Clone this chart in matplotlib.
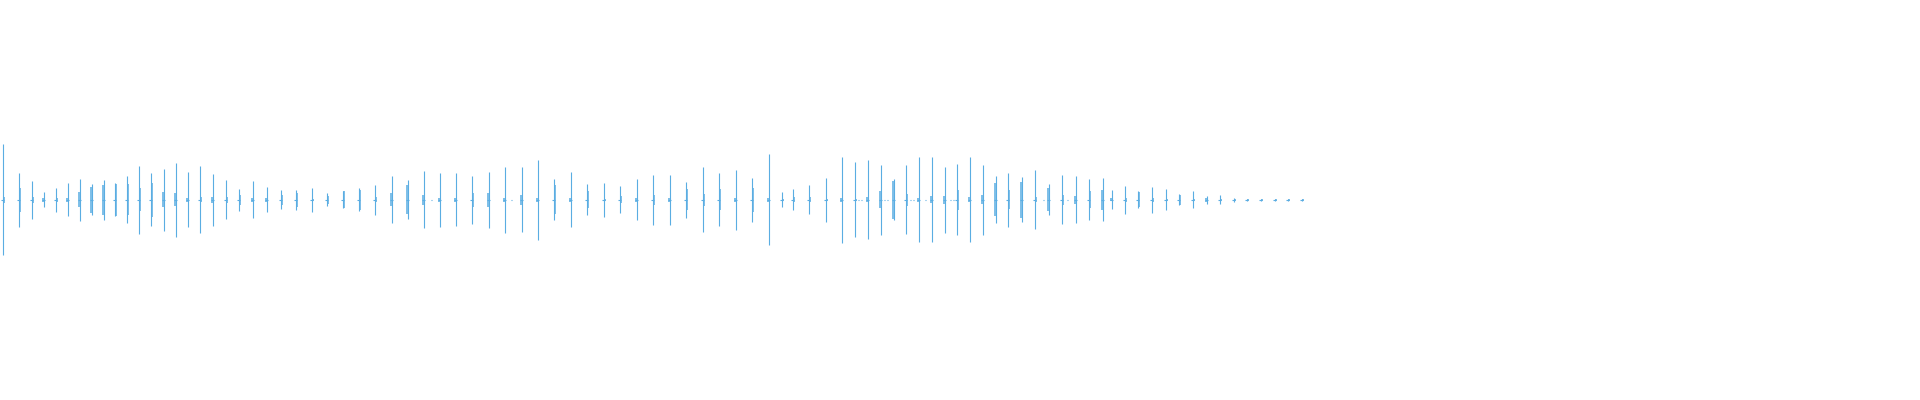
import numpy as np
import matplotlib as mpl
mpl.use("Agg")
import matplotlib.pyplot as plt

# waveform envelope
# time in frames, amplitude in % of full scale
t_peak = [2, 18, 31, 43, 55, 67, 79, 91, 103, 114, 126, 138, 150, 163, 175, 187,
          199, 212, 225, 238, 252, 266, 280, 295, 311, 326, 342, 358, 374, 391,
          407, 423, 439, 455, 471, 488, 504, 521, 537, 553, 570, 586, 603, 619,
          636, 652, 669, 685, 702, 718, 735, 751, 768, 781, 792, 808, 825, 841,
          854, 867, 880, 893, 905, 918, 931, 944, 956, 969, 982, 995, 1007, 1021,
          1034, 1048, 1061, 1075, 1088, 1102, 1111, 1124, 1137, 1151, 1165, 1178,
          1192, 1206, 1219, 1233, 1246, 1260, 1274, 1287, 1301]
amp_max = [27.8, 13.2, 9.2, 3.8, 5.8, 8.2, 10.2, 7.8, 9.8, 8.2, 11.8, 16.8, 13.2,
           15.2, 18.2, 13.8, 16.8, 12.8, 9.8, 5.2, 9.2, 6.2, 4.8, 4.8, 5.8, 3.2,
           4.2, 5.8, 7.2, 11.8, 9.8, 14.2, 13.2, 13.2, 11.8, 13.8, 16.2, 16.2,
           19.8, 10.2, 13.8, 7.8, 8.2, 6.8, 10.2, 12.2, 12.2, 8.8, 16.2, 13.2,
           14.8, 10.8, 22.8, 3.8, 5.2, 7.2, 10.8, 21.2, 18.8, 19.8, 17.2, 10.2,
           17.2, 21.2, 21.2, 16.2, 17.8, 21.2, 17.2, 11.8, 13.2, 11.2, 14.8, 7.8,
           12.2, 11.8, 10.2, 10.8, 4.8, 6.8, 4.2, 6.2, 5.2, 2.8, 4.2, 1.8, 2.2,
           0.8, 0.2, 0.2, 0.2, 0.2, 0.2]
amp_min = [-27.8, -13.6, -9.8, -3.6, -6.1, -8.2, -10.6, -7.8, -10.1, -8.2, -11.6,
           -17.1, -13.1, -15.6, -18.6, -13.6, -16.6, -13.1, -9.6, -5.6, -9.1,
           -6.1, -4.6, -5.1, -6.1, -3.1, -4.1, -5.6, -7.6, -11.6, -9.6, -14.1,
           -13.6, -13.1, -12.1, -14.1, -16.6, -16.1, -20.1, -10.1, -13.6, -7.6,
           -8.6, -6.6, -10.1, -12.6, -12.6, -9.1, -16.1, -13.1, -15.1, -11.1,
           -22.6, -3.6, -5.1, -7.1, -11.1, -21.6, -18.6, -19.6, -17.6, -10.1,
           -17.1, -21.1, -21.1, -16.6, -17.6, -21.1, -17.6, -11.6, -13.6, -11.1,
           -14.6, -7.6, -12.1, -11.6, -10.1, -10.6, -4.6, -7.1, -4.1, -6.6, -5.1,
           -2.6, -4.1, -2.1, -2.1, -1.1, -0.8, -0.5, -0.5, -0.5, -0.5]

# second (neighbouring) frame of each burst
t_side = [3, 19, 32, 42, 56, 66, 78, 90, 102, 115, 127, 139, 151, 162, 174, 186,
          200, 211, 226, 239, 251, 265, 281, 296, 312, 327, 343, 359, 375, 390,
          406, 422, 438, 454, 472, 487, 503, 520, 536, 554, 569, 587, 604, 620,
          635, 653, 668, 686, 703, 719, 734, 752, 767, 782, 793, 809, 826, 840,
          855, 866, 879, 892, 906, 917, 930, 943, 957, 968, 981, 994, 1008, 1020,
          1035, 1047, 1062, 1074, 1089, 1101, 1110, 1125, 1138, 1152, 1166, 1179,
          1193, 1205, 1220, 1234, 1247, 1261, 1275, 1288, 1302]
side_max = [1.2, 5.6, 1.2, 0.8, 0.8, 0.8, 3.8, 6.2, 7.2, 7.8, 7.8, 5.8, 8.2, 3.8,
            3.2, 0.8, 1.2, 1.2, 1.2, 2.2, 0.8, 0.8, 2.2, 3.2, 0.2, 1.8, 4.2, 4.8,
            1.2, 3.2, 7.2, 2.2, 0.8, 0.8, 3.2, 3.2, 0.8, 2.2, 0.8, 7.2, 0.8, 4.2,
            0.2, 1.8, 0.8, 2.2, 0.8, 5.2, 2.8, 5.2, 0.8, 5.8, 0.8, 0.2, 1.2, 1.2,
            0.2, 0.8, 0.2, 1.2, 4.2, 9.2, 2.8, 0.8, 1.8, 1.8, 4.8, 1.2, 2.2, 8.2,
            4.8, 8.8, 1.2, 5.8, 2.2, 1.8, 4.2, 4.8, 0.8, 0.8, 3.8, 0.8, 0.2, 2.2,
            0.2, 0.8, 0.2, 0.2, 0.2, 0.2, 0.2, 0.2, 0.2]
side_min = [-1.8, -6.1, -1.8, -1.2, -1.2, -1.2, -3.6, -6.8, -7.6, -8.2, -7.6,
            -5.6, -8.6, -3.6, -3.1, -1.2, -1.2, -1.8, -1.6, -2.6, -1.0, -1.2,
            -2.6, -3.6, -0.5, -2.1, -4.1, -5.1, -1.2, -3.1, -7.1, -2.6, -1.2,
            -1.0, -3.6, -3.6, -1.2, -2.6, -1.2, -7.1, -1.2, -4.1, -0.5, -1.6,
            -1.2, -2.6, -1.0, -5.1, -3.1, -5.1, -1.0, -6.1, -1.2, -0.5, -1.1,
            -1.1, -0.5, -1.0, -0.5, -1.2, -4.1, -9.6, -3.1, -1.0, -1.6, -2.1,
            -5.1, -1.2, -2.1, -8.1, -4.6, -9.1, -1.2, -5.6, -2.6, -2.1, -4.1,
            -5.1, -0.8, -1.0, -3.6, -1.1, -0.8, -2.6, -0.5, -1.2, -0.5, -0.5,
            -0.5, -0.5, -0.5, -0.5, -0.5]

# stray near-silent frames between bursts
t_quiet = [431, 511, 858, 861, 884, 887, 910, 913, 925, 950, 953, 1043, 1067]

wave_color = "#5aade2"

fig = plt.figure(figsize=(19.2, 4.0), dpi=100)
ax = fig.add_axes([0, 0, 1, 1])

ax.vlines(t_peak, amp_min, amp_max, color=wave_color, linewidth=0.8)
ax.vlines(t_side, side_min, side_max, color=wave_color, linewidth=1.1)
ax.hlines(np.zeros(len(t_peak)), np.array(t_peak) - 1.2, np.array(t_peak) + 1.7,
          color=wave_color, linewidth=0.8)
ax.hlines(np.zeros(len(t_quiet)), np.array(t_quiet) - 0.5, np.array(t_quiet) + 0.5,
          color=wave_color, linewidth=0.8)

ax.set_xlim(-0.5, 1919.5)
ax.set_ylim(-100.25, 99.75)
ax.axis("off")

fig.savefig("out.png", dpi=100, facecolor="white")
